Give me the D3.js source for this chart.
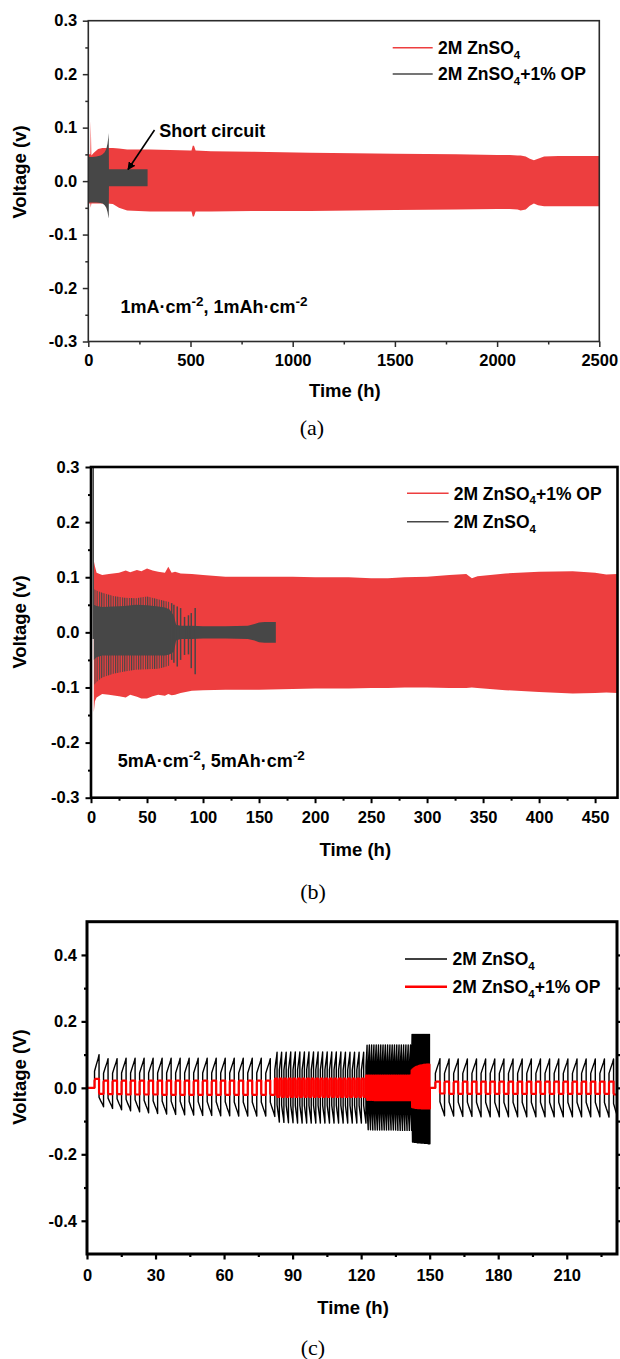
<!DOCTYPE html>
<html><head><meta charset="utf-8">
<script src="https://cdn.jsdelivr.net/npm/d3@7"></script>
<style>body{margin:0;background:#fff}</style>
</head><body><svg id="chart" width="620" height="1359" xmlns="http://www.w3.org/2000/svg"></svg>
<script>
// ---------------- DATA ----------------
// Panel (a): 1 mA cm-2, 1 mAh cm-2  (envelopes of the dense voltage oscillation)
const aXTicks = [0, 500, 1000, 1500, 2000, 2500];
const aXLabels = ["0", "500", "1000", "1500", "2000", "2500"];
const aXMinor = [250, 750, 1250, 1750, 2250];
const aYTicks = [-0.3, -0.2, -0.1, 0, 0.1, 0.2, 0.3];
const aYLabels = ["-0.3", "-0.2", "-0.1", "0.0", "0.1", "0.2", "0.3"];
const aYMinor = [-0.25, -0.15, -0.05, 0.05, 0.15, 0.25];
const aRedTime = [3, 10, 12, 15, 27, 48, 69, 90, 120, 150, 190, 302, 400, 497, 505, 511, 517, 525, 600, 800, 1085, 1300, 1500, 1800, 2000, 2062, 2100, 2115, 2140, 2160, 2180, 2200, 2230, 2300, 2500];
const aRedHigh = [0.05, 0.05, 0.113, 0.048, 0.053, 0.06, 0.062, 0.062, 0.062, 0.061, 0.059, 0.059, 0.058, 0.057, 0.057, 0.066, 0.066, 0.057, 0.056, 0.055, 0.053, 0.052, 0.051, 0.05, 0.049, 0.049, 0.048, 0.048, 0.046, 0.042, 0.039, 0.042, 0.046, 0.047, 0.047];
const aRedLow = [-0.042, -0.042, -0.05, -0.042, -0.042, -0.042, -0.042, -0.042, -0.043, -0.05, -0.055, -0.057, -0.057, -0.057, -0.057, -0.066, -0.066, -0.057, -0.057, -0.056, -0.056, -0.055, -0.054, -0.053, -0.052, -0.052, -0.053, -0.055, -0.053, -0.046, -0.042, -0.045, -0.047, -0.047, -0.047];
const aBlackTime = [0, 20, 40, 60, 70, 80, 88, 94, 98, 100, 101, 290];
const aBlackHigh = [0.045, 0.045, 0.046, 0.048, 0.05, 0.054, 0.06, 0.07, 0.082, 0.09, 0.022, 0.022];
const aBlackLow = [-0.04, -0.04, -0.04, -0.041, -0.042, -0.045, -0.05, -0.058, -0.066, -0.07, -0.0095, -0.0095];

// Panel (b): 5 mA cm-2, 5 mAh cm-2
const bXTicks = [0, 50, 100, 150, 200, 250, 300, 350, 400, 450];
const bXLabels = ["0", "50", "100", "150", "200", "250", "300", "350", "400", "450"];
const bXMinor = [25, 75, 125, 175, 225, 275, 325, 375, 425];
const bYTicks = [-0.3, -0.2, -0.1, 0, 0.1, 0.2, 0.3];
const bYLabels = ["-0.3", "-0.2", "-0.1", "0.0", "0.1", "0.2", "0.3"];
const bYMinor = [-0.25, -0.15, -0.05, 0.05, 0.15, 0.25];
const bRedTime = [2.5, 3.5, 5, 10, 16, 25, 31, 35, 41, 45, 50, 55, 60, 66, 69, 72, 75, 80, 90, 100, 120, 150, 180, 200, 230, 250, 265, 280, 300, 320, 335, 340, 345, 370, 400, 430, 450, 460, 470];
const bRedHigh = [0.13, 0.12, 0.108, 0.104, 0.106, 0.108, 0.112, 0.109, 0.113, 0.111, 0.116, 0.112, 0.11, 0.108, 0.119, 0.108, 0.11, 0.107, 0.106, 0.104, 0.101, 0.101, 0.101, 0.1, 0.1, 0.098, 0.098, 0.1, 0.101, 0.104, 0.106, 0.098, 0.102, 0.107, 0.11, 0.111, 0.108, 0.105, 0.106];
const bRedLow = [-0.145, -0.125, -0.118, -0.112, -0.113, -0.116, -0.118, -0.113, -0.117, -0.12, -0.12, -0.116, -0.113, -0.115, -0.112, -0.114, -0.113, -0.11, -0.106, -0.105, -0.104, -0.104, -0.103, -0.102, -0.102, -0.101, -0.101, -0.1, -0.1, -0.101, -0.101, -0.1, -0.101, -0.105, -0.108, -0.111, -0.11, -0.109, -0.11];
const bGrayCoreTime = [2.5, 5, 10, 20, 30, 40, 50, 60, 66, 70, 74, 76, 80, 90, 100, 120, 140, 146, 150, 155, 160, 165];
const bGrayCoreHigh = [0.05, 0.048, 0.046, 0.047, 0.048, 0.05, 0.049, 0.047, 0.045, 0.042, 0.03, 0.014, 0.012, 0.012, 0.011, 0.011, 0.012, 0.015, 0.018, 0.019, 0.019, 0.019];
const bGrayCoreLow = [-0.05, -0.045, -0.042, -0.042, -0.042, -0.042, -0.042, -0.042, -0.042, -0.04, -0.035, -0.015, -0.012, -0.012, -0.011, -0.011, -0.012, -0.015, -0.018, -0.019, -0.019, -0.019];
const bGrayTailTime = [3, 5, 10, 20, 30, 40, 50, 60, 66, 70];
const bGrayTailHigh = [0.078, 0.076, 0.072, 0.066, 0.063, 0.062, 0.065, 0.06, 0.057, 0.055];
const bGrayTailLow = [-0.095, -0.09, -0.082, -0.075, -0.071, -0.068, -0.067, -0.066, -0.063, -0.06];
const bSpikeTime = [2, 72, 74, 77, 80, 83.5, 87, 89.5, 93];
const bSpikeHigh = [0.3, 0.053, 0.05, 0.047, 0.044, 0.028, 0.031, 0.035, 0.044];
const bSpikeLow = [-0.012, -0.05, -0.055, -0.062, -0.05, -0.041, -0.04, -0.065, -0.076];

// Panel (c): rate test, 20 cycles per step
const cXTicks = [0, 30, 60, 90, 120, 150, 180, 210];
const cXLabels = ["0", "30", "60", "90", "120", "150", "180", "210"];
const cXMinor = [15, 45, 75, 105, 135, 165, 195, 225];
const cYTicks = [-0.4, -0.2, 0, 0.2, 0.4];
const cYLabels = ["-0.4", "-0.2", "0.0", "0.2", "0.4"];
const cYMinor = [-0.3, -0.1, 0.1, 0.3];
const cSectionStart = [3.3, 82.2, 122.1, 142.1, 152.5];
const cSectionPeriod = [3.945, 1.995, 1.0, 0.4, 4.0];
const cBlackHigh1 = [0.100, 0.088, 0.088, 0.089, 0.089, 0.089, 0.089, 0.089, 0.089, 0.089, 0.089, 0.089, 0.089, 0.089, 0.089, 0.089, 0.089, 0.089, 0.089, 0.088];
const cBlackLow1 = [-0.057, -0.062, -0.066, -0.069, -0.072, -0.075, -0.077, -0.079, -0.080, -0.081, -0.082, -0.083, -0.083, -0.084, -0.084, -0.085, -0.085, -0.085, -0.085, -0.086];
const cBlackHigh2 = [0.107, 0.107, 0.107, 0.108, 0.108, 0.108, 0.108, 0.108, 0.108, 0.108, 0.108, 0.108, 0.108, 0.108, 0.108, 0.107, 0.107, 0.107, 0.107, 0.107];
const cBlackLow2 = [-0.103, -0.104, -0.105, -0.105, -0.106, -0.106, -0.106, -0.106, -0.106, -0.106, -0.106, -0.106, -0.106, -0.106, -0.106, -0.106, -0.106, -0.106, -0.106, -0.106];
const cBlackHigh3 = [0.128, 0.129, 0.129, 0.129, 0.129, 0.129, 0.129, 0.129, 0.129, 0.129, 0.129, 0.129, 0.129, 0.129, 0.129, 0.129, 0.129, 0.129, 0.129, 0.129];
const cBlackLow3 = [-0.126, -0.126, -0.127, -0.127, -0.127, -0.127, -0.127, -0.127, -0.127, -0.127, -0.127, -0.127, -0.127, -0.128, -0.128, -0.128, -0.128, -0.128, -0.128, -0.128];
const cBlackHigh4 = [0.161, 0.161, 0.161, 0.161, 0.161, 0.161, 0.161, 0.161, 0.161, 0.161, 0.161, 0.161, 0.161, 0.161, 0.161, 0.161, 0.161, 0.161, 0.161, 0.161];
const cBlackLow4 = [-0.163, -0.163, -0.164, -0.164, -0.164, -0.165, -0.165, -0.165, -0.165, -0.166, -0.166, -0.166, -0.166, -0.167, -0.167, -0.167, -0.167, -0.168, -0.168, -0.168];
const cBlackHigh5 = [0.088, 0.087, 0.087, 0.087, 0.087, 0.087, 0.087, 0.087, 0.087, 0.087, 0.087, 0.087, 0.087, 0.087, 0.087, 0.087, 0.087, 0.087, 0.087, 0.087];
const cBlackLow5 = [-0.084, -0.085, -0.086, -0.086, -0.087, -0.087, -0.087, -0.087, -0.087, -0.087, -0.087, -0.087, -0.087, -0.087, -0.087, -0.087, -0.087, -0.087, -0.088, -0.095];
const cRedHigh1 = [0.027, 0.022, 0.022, 0.022, 0.022, 0.022, 0.022, 0.022, 0.022, 0.022, 0.022, 0.022, 0.022, 0.022, 0.022, 0.022, 0.022, 0.022, 0.022, 0.022];
const cRedLow1 = [-0.018, -0.019, -0.019, -0.02, -0.02, -0.02, -0.02, -0.021, -0.021, -0.021, -0.021, -0.021, -0.021, -0.021, -0.021, -0.021, -0.021, -0.021, -0.021, -0.021];
const cRedHigh2 = [0.028, 0.028, 0.028, 0.028, 0.028, 0.028, 0.028, 0.028, 0.028, 0.028, 0.028, 0.028, 0.028, 0.028, 0.028, 0.028, 0.028, 0.028, 0.028, 0.028];
const cRedLow2 = [-0.027, -0.027, -0.027, -0.027, -0.027, -0.027, -0.027, -0.027, -0.027, -0.027, -0.027, -0.027, -0.027, -0.027, -0.027, -0.027, -0.027, -0.027, -0.027, -0.027];
const cRedHigh3 = [0.037, 0.037, 0.037, 0.037, 0.037, 0.037, 0.037, 0.037, 0.037, 0.037, 0.037, 0.037, 0.037, 0.037, 0.037, 0.037, 0.037, 0.037, 0.037, 0.037];
const cRedLow3 = [-0.036, -0.036, -0.036, -0.037, -0.037, -0.037, -0.037, -0.037, -0.037, -0.037, -0.037, -0.037, -0.037, -0.037, -0.037, -0.037, -0.037, -0.037, -0.037, -0.037];
const cRedHigh4 = [0.053, 0.056, 0.058, 0.060, 0.062, 0.063, 0.064, 0.065, 0.066, 0.067, 0.067, 0.068, 0.068, 0.069, 0.069, 0.069, 0.070, 0.070, 0.070, 0.070];
const cRedLow4 = [-0.058, -0.059, -0.059, -0.060, -0.060, -0.060, -0.061, -0.061, -0.061, -0.061, -0.062, -0.062, -0.062, -0.062, -0.062, -0.062, -0.062, -0.062, -0.062, -0.062];
const cRedHigh5 = [0.019, 0.019, 0.019, 0.019, 0.019, 0.019, 0.019, 0.019, 0.019, 0.019, 0.019, 0.019, 0.019, 0.019, 0.019, 0.019, 0.019, 0.019, 0.019, 0.019];
const cRedLow5 = [-0.017, -0.018, -0.018, -0.018, -0.018, -0.018, -0.018, -0.018, -0.018, -0.018, -0.018, -0.018, -0.018, -0.018, -0.018, -0.018, -0.018, -0.018, -0.018, -0.02];

// ---------------- DRAWING ----------------
const FONT = "'Liberation Sans', Arial, Helvetica, sans-serif";
const RED_AB = "#ed3e3f", GRAY = "#474747";
const svg = d3.select("#chart");
svg.append("rect").attr("width", 620).attr("height", 1359).attr("fill", "#fff");
const defs = svg.append("defs");
const combPat = defs.append("pattern").attr("id", "comb").attr("patternUnits", "userSpaceOnUse")
  .attr("width", 2.3).attr("height", 10);
combPat.append("rect").attr("x", 0).attr("y", 0).attr("width", 1.1).attr("height", 10).attr("fill", GRAY);

function makePanel(o) {
  const x = d3.scaleLinear().domain(o.xDomain).range([o.left, o.right]);
  const y = d3.scaleLinear().domain(o.yDomain).range([o.bottom, o.top]);
  defs.append("clipPath").attr("id", "clip" + o.name).append("rect")
    .attr("x", o.left).attr("y", o.top).attr("width", o.right - o.left).attr("height", o.bottom - o.top);
  const g = svg.append("g");
  const plot = g.append("g").attr("clip-path", `url(#clip${o.name})`);
  return { x, y, g, plot };
}

function styleAxis(sel, color, w) {
  sel.select(".domain").remove();
  sel.selectAll(".tick line").attr("stroke", color).attr("stroke-width", w);
  sel.selectAll(".tick text").attr("fill", "#000");
  sel.attr("font-size", 16.5).attr("font-family", FONT).attr("font-weight", "bold");
}

function drawAxes(p, o) {
  const { x, y, g } = p;
  const lx = g.append("g").attr("transform", `translate(${o.left},0)`)
    .call(d3.axisLeft(y).tickValues(o.yMinor).tickSize(3).tickFormat(""));
  styleAxis(lx, o.color, o.tickW);
  const bx = g.append("g").attr("transform", `translate(0,${o.bottom})`)
    .call(d3.axisBottom(x).tickValues(o.xMinor.filter(v => v <= o.xDomain[1])).tickSize(3).tickFormat(""));
  styleAxis(bx, o.color, o.tickW);
  const ly = g.append("g").attr("transform", `translate(${o.left},0)`)
    .call(d3.axisLeft(y).tickValues(o.yTicks).tickSize(5.5).tickPadding(o.yPad).tickFormat((d, i) => o.yLabels[i]));
  styleAxis(ly, o.color, o.tickW);
  const ax = g.append("g").attr("transform", `translate(0,${o.bottom})`)
    .call(d3.axisBottom(x).tickValues(o.xTicks).tickSize(5.5).tickPadding(o.xPad).tickFormat((d, i) => o.xLabels[i]));
  styleAxis(ax, o.color, o.tickW);
  if (o.rightTicks) {
    const ry = g.append("g").attr("transform", `translate(${o.right},0)`)
      .call(d3.axisLeft(y).tickValues(o.yTicks).tickSize(-5).tickFormat(""));
    styleAxis(ry, o.color, o.tickW);
    const ry2 = g.append("g").attr("transform", `translate(${o.right},0)`)
      .call(d3.axisLeft(y).tickValues(o.yMinor).tickSize(-3).tickFormat(""));
    styleAxis(ry2, o.color, o.tickW);
  }
  g.append("rect").attr("x", o.left).attr("y", o.top).attr("width", o.right - o.left).attr("height", o.bottom - o.top)
    .attr("fill", "none").attr("stroke", o.color).attr("stroke-width", o.frameW);
  g.append("text").attr("transform", `translate(${o.yTitleX},${o.yTitleY}) rotate(-90)`)
    .attr("text-anchor", "middle").attr("font-family", FONT).attr("font-weight", "bold").attr("font-size", 18.5)
    .text(o.yTitle);
  g.append("text").attr("x", (o.left + o.right) / 2 + 1).attr("y", o.xTitleY)
    .attr("text-anchor", "middle").attr("font-family", FONT).attr("font-weight", "bold").attr("font-size", 18.5)
    .text("Time (h)");
  g.append("text").attr("x", o.captionX).attr("y", o.captionY).attr("text-anchor", "middle")
    .attr("font-family", "'Liberation Serif', 'Times New Roman', serif").attr("font-size", 22)
    .text(o.caption);
}

function legend(g, x1, x2, tx, rows) {
  rows.forEach(r => {
    g.append("line").attr("x1", x1).attr("x2", x2).attr("y1", r.y).attr("y2", r.y)
      .attr("stroke", r.color).attr("stroke-width", r.w);
    const t = g.append("text").attr("x", tx).attr("y", r.y + 6.3).attr("font-family", FONT)
      .attr("font-weight", "bold").attr("font-size", 17.5);
    t.append("tspan").text("2M ZnSO");
    t.append("tspan").attr("font-size", 11.5).attr("dy", 4.5).text("4");
    if (r.op) t.append("tspan").attr("dy", -4.5).text("+1% OP");
  });
}

function condition(g, x0, yb, n) {
  const t = g.append("text").attr("x", x0).attr("y", yb).attr("font-family", FONT)
    .attr("font-weight", "bold").attr("font-size", 18);
  t.append("tspan").text(n + "mA\u00B7cm");
  t.append("tspan").attr("font-size", 13.5).attr("dy", -7).text("-2");
  t.append("tspan").attr("dy", 7).text(", " + n + "mAh\u00B7cm");
  t.append("tspan").attr("font-size", 13.5).attr("dy", -7).text("-2");
}

function bandArea(p, times, hi, lo) {
  const data = times.map((t, i) => ({ t, h: hi[i], l: lo[i] }));
  return d3.area().x(d => p.x(d.t)).y0(d => p.y(d.l)).y1(d => p.y(d.h))(data);
}

// ---------- Panel (a) ----------
const oa = { name: "a", left: 88.3, right: 599.3, top: 20.7, bottom: 341.5, xDomain: [0, 2500], yDomain: [-0.3, 0.3],
  xTicks: aXTicks, xLabels: aXLabels, xMinor: aXMinor, yTicks: aYTicks, yLabels: aYLabels, yMinor: aYMinor,
  color: "#2b2b2b", tickW: 1.5, frameW: 1.6, yPad: 5.5, xPad: 7.5, yTitle: "Voltage (v)", yTitleX: 26, yTitleY: 172,
  xTitleY: 396.5, caption: "(a)", captionX: 312, captionY: 435 };
const pa = makePanel(oa);
pa.plot.append("path").attr("d", bandArea(pa, aRedTime, aRedHigh, aRedLow)).attr("fill", RED_AB);
pa.plot.append("path").attr("d", bandArea(pa, aBlackTime, aBlackHigh, aBlackLow)).attr("fill", GRAY);
drawAxes(pa, oa);
legend(pa.g, 392.7, 432.7, 438, [{ y: 47.7, color: RED_AB, w: 1.5 }, { y: 74, color: GRAY, w: 1.5, op: true }]);
condition(pa.g, 120.5, 312.5, 1);
pa.g.append("text").attr("x", 159.3).attr("y", 136.5).attr("font-family", FONT).attr("font-weight", "bold")
  .attr("font-size", 18).text("Short circuit");
defs.append("marker").attr("id", "arrow").attr("viewBox", "0 0 10 10").attr("refX", 9).attr("refY", 5)
  .attr("markerWidth", 8).attr("markerHeight", 8).attr("markerUnits", "userSpaceOnUse").attr("orient", "auto")
  .append("path").attr("d", "M0,0 L10,5 L0,10 Z").attr("fill", "#000");
pa.g.append("line").attr("x1", 154.5).attr("y1", 130).attr("x2", 128).attr("y2", 169.5)
  .attr("stroke", "#000").attr("stroke-width", 1.6).attr("marker-end", "url(#arrow)");

// ---------- Panel (b) ----------
const ob = { name: "b", left: 91, right: 617.5, top: 467, bottom: 797.7, xDomain: [0, 470], yDomain: [-0.3, 0.3],
  xTicks: bXTicks, xLabels: bXLabels, xMinor: bXMinor, yTicks: bYTicks, yLabels: bYLabels, yMinor: bYMinor,
  color: "#000", tickW: 2, frameW: 2.6, yPad: 6, xPad: 8.5, yTitle: "Voltage (v)", yTitleX: 26, yTitleY: 622,
  xTitleY: 855.5, caption: "(b)", captionX: 313, captionY: 899 };
const pb = makePanel(ob);
pb.plot.append("path").attr("d", bandArea(pb, bRedTime, bRedHigh, bRedLow)).attr("fill", RED_AB);
pb.plot.append("path").attr("d", bandArea(pb, bGrayTailTime, bGrayTailHigh, bGrayTailLow)).attr("fill", "url(#comb)");
pb.plot.append("path").attr("d", bandArea(pb, bGrayCoreTime, bGrayCoreHigh, bGrayCoreLow)).attr("fill", GRAY);
pb.plot.selectAll("line.spike").data(bSpikeTime.map((t, i) => ({ t, h: bSpikeHigh[i], l: bSpikeLow[i] })))
  .join("line").attr("class", "spike")
  .attr("x1", d => pb.x(d.t)).attr("x2", d => pb.x(d.t)).attr("y1", d => pb.y(d.h)).attr("y2", d => pb.y(d.l))
  .attr("stroke", GRAY).attr("stroke-width", 1.5);
drawAxes(pb, ob);
legend(pb.g, 407, 448.6, 453.7, [{ y: 493.3, color: RED_AB, w: 1.5, op: true }, { y: 521.7, color: GRAY, w: 1.5 }]);
condition(pb.g, 117.8, 766.5, 5);

// ---------- Panel (c) ----------
const oc = { name: "c", left: 87, right: 617, top: 921.7, bottom: 1254, xDomain: [0, 232], yDomain: [-0.5, 0.5],
  xTicks: cXTicks, xLabels: cXLabels, xMinor: cXMinor, yTicks: cYTicks, yLabels: cYLabels, yMinor: cYMinor,
  color: "#000", tickW: 2.2, frameW: 3, yPad: 4.5, xPad: 10, yTitle: "Voltage (V)", yTitleX: 26, yTitleY: 1077,
  xTitleY: 1314, caption: "(c)", captionX: 313, captionY: 1355, rightTicks: true };
const pc = makePanel(oc);
const cBlackHighs = [cBlackHigh1, cBlackHigh2, cBlackHigh3, cBlackHigh4, cBlackHigh5];
const cBlackLows = [cBlackLow1, cBlackLow2, cBlackLow3, cBlackLow4, cBlackLow5];
const cRedHighs = [cRedHigh1, cRedHigh2, cRedHigh3, cRedHigh4, cRedHigh5];
const cRedLows = [cRedLow1, cRedLow2, cRedLow3, cRedLow4, cRedLow5];
// waveform shape within one cycle: [fraction of period, fraction of extreme, which extreme]
const blackShape = [[0, 0.5, "h"], [0.2, 0.7, "h"], [0.4, 0.88, "h"], [0.5, 1, "h"], [0.5, 0.5, "l"], [0.7, 0.7, "l"], [0.9, 0.88, "l"], [1, 1, "l"]];
const redShape = [[0, 0.8, "h"], [0.08, 1, "h"], [0.5, 1, "h"], [0.5, 0.8, "l"], [0.58, 1, "l"], [1, 1, "l"]];
function cyclePoints(highs, lows, shape) {
  const pts = [[0, 0], [cSectionStart[0], 0]];
  cSectionStart.forEach((s, k) => {
    const P = cSectionPeriod[k];
    if (k === 4) {
      const prevEnd = cSectionStart[3] + cSectionPeriod[3] * highs[3].length;
      pts.push([prevEnd, 0], [s, 0]);
    }
    highs[k].forEach((h, i) => {
      const t0 = s + i * P, l = lows[k][i];
      shape.forEach(([f, a, w]) => pts.push([t0 + f * P, a * (w === "h" ? h : l)]));
    });
  });
  return pts;
}
const cLine = d3.line().x(d => pc.x(d[0])).y(d => pc.y(d[1]));
pc.plot.append("path").attr("d", cLine(cyclePoints(cBlackHighs, cBlackLows, blackShape)))
  .attr("fill", "none").attr("stroke", "#000").attr("stroke-width", 1.4).attr("stroke-linejoin", "round");
pc.plot.append("path").attr("d", cLine(cyclePoints(cRedHighs, cRedLows, redShape)))
  .attr("fill", "none").attr("stroke", "#ff0000").attr("stroke-width", 2.2).attr("stroke-linejoin", "round");
drawAxes(pc, oc);
legend(pc.g, 405, 447, 452.5, [{ y: 959, color: "#000", w: 1.6 }, { y: 986.7, color: "#ff0000", w: 2.4, op: true }]);
</script></body></html>
